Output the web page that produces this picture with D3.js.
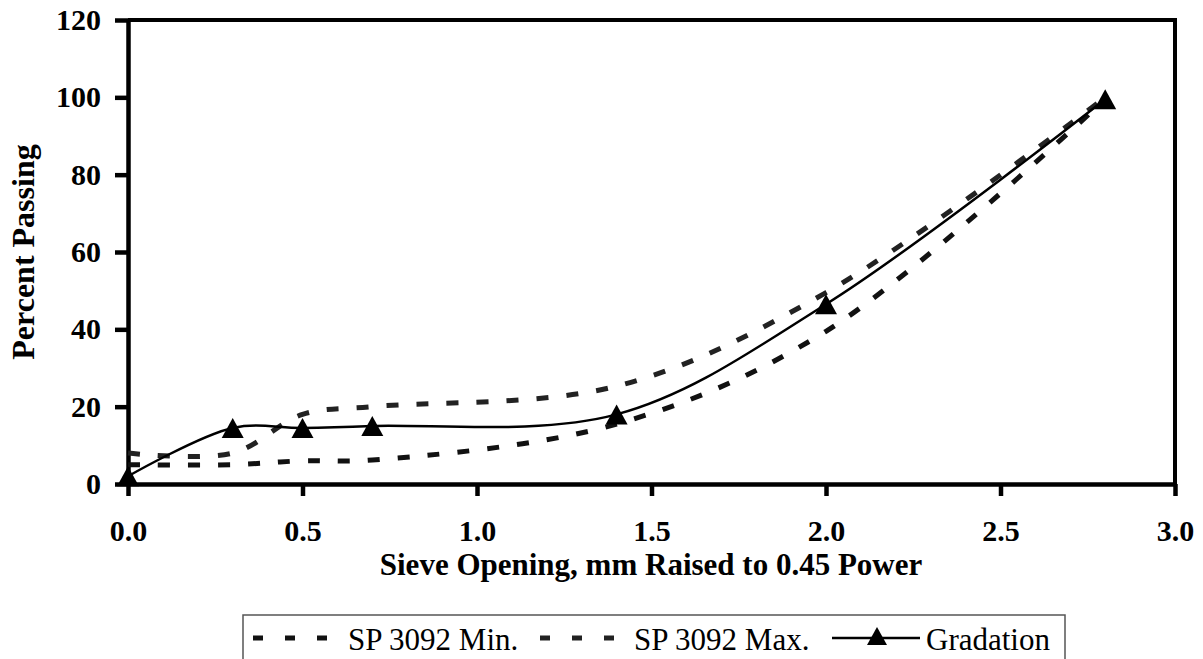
<!DOCTYPE html>
<html>
<head>
<meta charset="utf-8">
<script src="https://cdn.jsdelivr.net/npm/d3@7"></script>
<style>
  body { margin: 0; background: #fff; }
  svg { display: block; font-family: "Liberation Serif", "Times New Roman", serif; }
</style>
</head>
<body>
<svg id="chart" width="1203" height="659"></svg>
<script>
// sieve opening (mm ^ 0.45) and percent passing
const sieveX = [0, 0.3, 0.5, 0.7, 1.4, 2.0, 2.8]
const minPct = [5, 5, 6, 6.2, 15.5, 39.5, 99.5]
const maxPct = [8, 8, 18, 20, 25.3, 49.5, 100]
const gradPct = [2, 14.5, 14.5, 15, 18, 46.5, 99.5]

const xTicks = [0, 0.5, 1.0, 1.5, 2.0, 2.5, 3.0]
const yTicks = [0, 20, 40, 60, 80, 100, 120]

const legendItems = ['SP 3092 Min.', 'SP 3092 Max.', 'Gradation']

const svg = d3.select('#chart')

const x = d3.scaleLinear().domain([0, 3]).range([128, 1175])
const y = d3.scaleLinear().domain([0, 120]).range([484, 20])

// frame (top + right)
svg.append('path')
  .attr('d', `M${x(0)},${y(120)}H${x(3)}V${y(0)}`)
  .attr('fill', 'none')
  .attr('stroke', '#000')
  .attr('stroke-width', 4)

// y axis
const yAxis = svg.append('g')
  .attr('class', 'y-axis')
  .attr('transform', `translate(${x(0)},0)`)
  .call(d3.axisLeft(y).tickValues(yTicks).tickSize(13).tickSizeOuter(0).tickPadding(14).tickFormat(d3.format('d')))

yAxis.selectAll('.domain, .tick line')
  .attr('stroke', '#000')
  .attr('stroke-width', 4.5)

yAxis.selectAll('.tick text')
  .attr('font-family', '"Liberation Serif", serif')
  .attr('font-weight', 'bold')
  .attr('font-size', 30)
  .attr('fill', '#000')

// x axis
const xAxis = svg.append('g')
  .attr('class', 'x-axis')
  .attr('transform', `translate(0,${y(0)})`)
  .call(d3.axisBottom(x).tickValues(xTicks).tickSize(12).tickSizeOuter(0).tickFormat(d3.format('.1f')))

xAxis.selectAll('.domain, .tick line')
  .attr('stroke', '#000')
  .attr('stroke-width', 4.5)

xAxis.selectAll('.tick text')
  .attr('font-family', '"Liberation Serif", serif')
  .attr('font-weight', 'bold')
  .attr('font-size', 30)
  .attr('fill', '#000')
  .attr('dy', null)
  .attr('y', 57)

// axis titles
svg.append('text')
  .attr('x', 651)
  .attr('y', 575)
  .attr('text-anchor', 'middle')
  .attr('font-weight', 'bold')
  .attr('font-size', 31)
  .text('Sieve Opening, mm Raised to 0.45 Power')

svg.append('text')
  .attr('transform', 'translate(34,252) rotate(-90)')
  .attr('text-anchor', 'middle')
  .attr('font-weight', 'bold')
  .attr('font-size', 32)
  .text('Percent Passing')

// smoothed lines (Excel style)
const line = d3.line()
  .x(d => x(d[0]))
  .y(d => y(d[1]))
  .curve(d3.curveCatmullRom.alpha(0.5))

const plot = svg.append('g').attr('id', 'series')

plot.append('path')
  .datum(d3.zip(sieveX, minPct))
  .attr('d', line)
  .attr('fill', 'none')
  .attr('stroke', '#111')
  .attr('stroke-width', 5)
  .attr('stroke-dasharray', '12,18')

plot.append('path')
  .datum(d3.zip(sieveX, maxPct))
  .attr('d', line)
  .attr('fill', 'none')
  .attr('stroke', '#222')
  .attr('stroke-width', 5)
  .attr('stroke-dasharray', '12,18')

plot.append('path')
  .datum(d3.zip(sieveX, gradPct))
  .attr('d', line)
  .attr('fill', 'none')
  .attr('stroke', '#000')
  .attr('stroke-width', 2.5)

// triangle centred on its box, like the spreadsheet marker
const tri = 'M0,-10L11,10L-11,10Z'

plot.selectAll('.marker')
  .data(d3.zip(sieveX, gradPct))
  .enter()
  .append('path')
  .attr('class', 'marker')
  .attr('d', tri)
  .attr('transform', d => `translate(${x(d[0])},${y(d[1])})`)
  .attr('fill', '#000')

// legend
const legend = svg.append('g').attr('id', 'legend')

legend.append('rect')
  .attr('x', 243)
  .attr('y', 615)
  .attr('width', 822)
  .attr('height', 80)
  .attr('fill', '#fff')
  .attr('stroke', '#555')
  .attr('stroke-width', 1.5)

const legendX = [253, 540, 832]
const textX = [348, 634, 926]

legend.append('line')
  .attr('x1', legendX[0]).attr('x2', legendX[0] + 74)
  .attr('y1', 638).attr('y2', 638)
  .attr('stroke', '#111')
  .attr('stroke-width', 5)
  .attr('stroke-dasharray', '10,22')

legend.append('line')
  .attr('x1', legendX[1]).attr('x2', legendX[1] + 74)
  .attr('y1', 638).attr('y2', 638)
  .attr('stroke', '#222')
  .attr('stroke-width', 5)
  .attr('stroke-dasharray', '10,22')

legend.append('line')
  .attr('x1', legendX[2]).attr('x2', legendX[2] + 88)
  .attr('y1', 638).attr('y2', 638)
  .attr('stroke', '#000')
  .attr('stroke-width', 2.5)

legend.append('path')
  .attr('d', 'M0,-9L10,9L-10,9Z')
  .attr('transform', `translate(${legendX[2] + 45},${636})`)
  .attr('fill', '#000')

legend.selectAll('.legend-label')
  .data(legendItems)
  .enter()
  .append('text')
  .attr('class', 'legend-label')
  .attr('x', (d, i) => textX[i])
  .attr('y', 650)
  .attr('font-size', 31)
  .attr('fill', '#000')
  .text(d => d)
</script>
</body>
</html>
